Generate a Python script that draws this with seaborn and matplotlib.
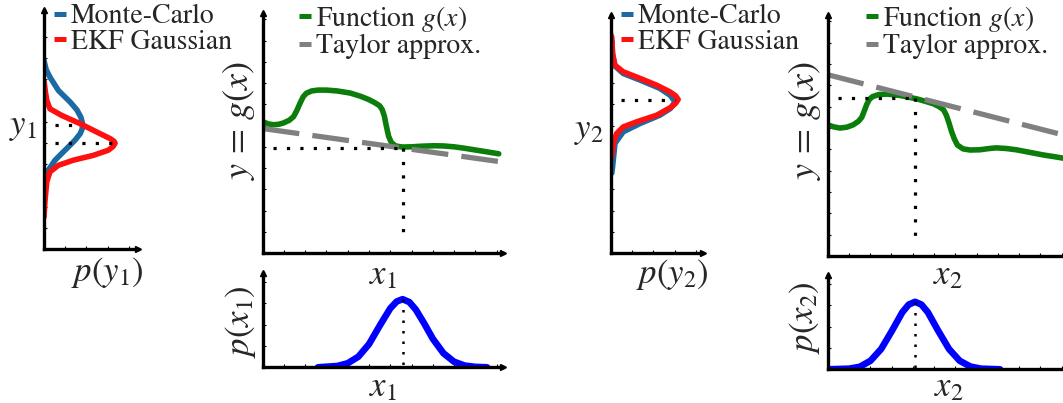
import matplotlib
matplotlib.use("Agg")
import matplotlib.pyplot as plt
from matplotlib.lines import Line2D
import seaborn as sns

# ---------------------------------------------------------------------------
# Data (axis units: one tick = one unit)
# ---------------------------------------------------------------------------
# Example 1: nonlinear function, its linearisation at x1, and the densities
g1_x = [0.0, 0.25, 0.5, 0.75, 0.97, 1.25, 1.45, 1.6, 1.76, 1.9, 2.05, 2.3,
        2.6, 3.0, 3.5, 4.12, 4.6, 5.0, 5.3, 5.5, 5.62, 5.72, 5.82, 5.92, 6.05,
        6.25, 6.56, 7.0, 7.5, 8.05, 8.5, 9.0, 9.5, 10.0, 10.5, 11.1]
g1_y = [6.19, 6.08, 6.04, 6.06, 6.12, 6.25, 6.42, 6.7, 7.06, 7.35, 7.52, 7.63,
        7.67, 7.67, 7.63, 7.53, 7.38, 7.22, 7.06, 6.93, 6.75, 6.45, 5.95, 5.5,
        5.2, 5.04, 4.99, 5.0, 5.03, 5.05, 5.04, 5.0, 4.93, 4.85, 4.77, 4.67]
taylor1_x = [0.0, 11.3]
taylor1_y = [5.86, 4.28]
x1_point = 6.6
y1_point = 4.95

px1_x = [2.6, 3.5, 4.0, 4.5, 5.0, 5.5, 6.0, 6.3, 6.58, 6.9, 7.2, 7.6, 8.0,
         8.5, 9.0, 9.5, 10.0, 10.55]
px1_y = [0.0, 0.06, 0.19, 0.5, 1.09, 1.95, 2.77, 3.09, 3.2, 3.06, 2.71, 2.05,
         1.34, 0.66, 0.26, 0.08, 0.02, 0.0]

mc1_p = [0.0, 0.1, 0.28, 0.68, 1.23, 1.55, 1.74, 1.82, 1.8, 1.7, 1.46, 0.99,
         0.52, 0.2, 0.05, 0.0]
mc1_y = [8.87, 8.45, 8.09, 7.46, 6.92, 6.55, 6.2, 5.9, 5.65, 5.42, 5.12, 4.65,
         4.18, 3.71, 3.24, 2.6]
ekf1_p = [0.0, 0.06, 0.13, 0.28, 0.83, 1.7, 2.48, 3.11, 3.3, 3.35, 3.25, 3.03,
          2.33, 1.38, 0.68, 0.28, 0.13, 0.05, 0.0]
ekf1_y = [7.93, 7.45, 7.0, 6.6, 6.29, 5.9, 5.51, 5.2, 5.07, 4.98, 4.82, 4.65,
          4.41, 4.18, 3.94, 3.63, 3.16, 2.3, 1.5]
mc1_peak = (1.8, 5.82)
ekf1_peak = (3.35, 5.0)

# Example 2: same function, linearised at x2
g2_x = [0.0, 0.3, 0.58, 0.9, 1.2, 1.45, 1.6, 1.72, 1.83, 1.95, 2.1, 2.4, 2.8,
        3.39, 4.18, 4.6, 4.96, 5.25, 5.45, 5.58, 5.7, 5.82, 5.95, 6.1, 6.37,
        6.7, 7.15, 7.6, 7.93, 8.4, 8.87, 9.5, 10.12, 10.7, 11.3]
g2_y = [6.15, 6.05, 6.0, 6.04, 6.15, 6.32, 6.5, 6.8, 7.09, 7.33, 7.47, 7.57,
        7.59, 7.53, 7.37, 7.25, 7.14, 7.0, 6.85, 6.6, 6.25, 5.85, 5.5, 5.2,
        5.02, 4.97, 4.98, 5.04, 5.07, 5.04, 4.98, 4.86, 4.74, 4.65, 4.55]
taylor2_x = [0.0, 11.3]
taylor2_y = [8.5, 5.62]
x2_point = 4.1
y2_point = 7.4

px2_x = [0.0, 1.0, 1.5, 2.0, 2.5, 3.0, 3.5, 3.8, 4.1, 4.4, 4.7, 5.2, 5.7,
         6.2, 6.7, 7.2, 8.1]
px2_y = [0.0, 0.03, 0.12, 0.4, 0.95, 1.79, 2.68, 3.04, 3.17, 3.04, 2.68, 1.79,
         0.95, 0.4, 0.13, 0.03, 0.0]

mc2_p = [0.0, 0.05, 0.09, 0.2, 0.59, 1.38, 2.31, 2.8, 3.02, 2.8, 2.31, 1.38,
         0.59, 0.2, 0.09, 0.05]
mc2_y = [10.3, 9.9, 9.3, 8.8, 8.45, 8.14, 7.75, 7.42, 7.12, 6.8, 6.49, 6.1,
         5.71, 5.16, 4.07, 3.77]
ekf2_p = [0.05, 0.09, 0.2, 0.59, 1.38, 2.16, 2.78, 3.05, 3.17, 3.05, 2.86,
          2.16, 1.22, 0.59, 0.28, 0.12, 0.05]
ekf2_y = [10.17, 9.39, 8.84, 8.53, 8.22, 7.9, 7.59, 7.4, 7.23, 7.05, 6.88,
          6.49, 6.18, 5.94, 5.63, 5.16, 4.54]
peak2 = (3.0, 7.2)

# ---------------------------------------------------------------------------
# Style
# ---------------------------------------------------------------------------
sns.set_style("white")
plt.rcParams["font.family"] = ["STIXGeneral", "DejaVu Serif"]
plt.rcParams["mathtext.fontset"] = "stix"

C_MC = "#1b6aa3"
C_EKF = "#ff1010"
C_G = "#0a7d0a"
C_TAY = "#808080"
C_PX = "#0000ff"

W, H = 1063, 403
fig = plt.figure(figsize=(W / 100, H / 100), dpi=100)


def add_axes(left, top, right, bottom):
    return fig.add_axes([left / W, 1 - bottom / H, (right - left) / W,
                         (bottom - top) / H])


def style_axes(ax, xmax, ymax, xticks, yticks):
    ax.set_xlim(0, xmax)
    ax.set_ylim(0, ymax)
    ax.set_xticks(xticks)
    ax.set_yticks(yticks)
    ax.set_xticklabels([])
    ax.set_yticklabels([])
    for s in ("top", "right"):
        ax.spines[s].set_visible(False)
    for s in ("left", "bottom"):
        ax.spines[s].set_linewidth(2.4)
        ax.spines[s].set_color("black")
    ax.tick_params(direction="in", length=2.5, width=0.8, color="black",
                   left=True, bottom=True)
    ax.set_xlabel("")
    ax.set_ylabel("")
    ax.plot(1, 0, ">", color="black", ms=5, transform=ax.get_yaxis_transform(),
            clip_on=False)
    ax.plot(0, 1, "^", color="black", ms=5, transform=ax.get_xaxis_transform(),
            clip_on=False)
    ax.patch.set_alpha(0)


def dotted(ax, xs, ys, lw=2.3):
    ax.plot(xs, ys, color="black", lw=lw, dashes=(1, 3.2),
            dash_capstyle="butt", zorder=5)


def legend(ax, handles, labels, x, y):
    ax.legend(handles, labels, loc="upper left",
              bbox_to_anchor=(x / W, 1 - y / H), bbox_transform=fig.transFigure,
              frameon=False, fontsize=20, handlelength=0.42, handletextpad=0.18,
              borderpad=0, borderaxespad=0, labelspacing=0.0)


def density_panel(left, top, right, bottom, xmax, ymax, mc_p, mc_y, ekf_p, ekf_y,
                  guides, leg_x):
    ax = add_axes(left, top, right, bottom)
    sns.lineplot(x=mc_p, y=mc_y, sort=False, estimator=None, color=C_MC, lw=4.0,
                 ax=ax)
    sns.lineplot(x=ekf_p, y=ekf_y, sort=False, estimator=None, color=C_EKF,
                 lw=4.0, ax=ax)
    for gx, gy in guides:
        dotted(ax, [0.5, gx], [gy, gy])
    style_axes(ax, xmax, ymax, [1, 2, 3, 4], list(range(0, 11)))
    h = [Line2D([], [], color=C_MC, lw=3.6, solid_capstyle="butt"),
         Line2D([], [], color=C_EKF, lw=3.6, solid_capstyle="butt")]
    legend(ax, h, ["Monte-Carlo", "EKF Gaussian"], leg_x, 4)
    return ax


def function_panel(left, top, right, bottom, gx, gy, tx, ty, xp, yp, leg_x):
    ax = add_axes(left, top, right, bottom)
    sns.lineplot(x=gx, y=gy, sort=False, estimator=None, color=C_G, lw=4.0,
                 ax=ax)
    sns.lineplot(x=tx, y=ty, sort=False, estimator=None, color=C_TAY, lw=3.8,
                 ax=ax)
    ax.lines[-1].set_dashes((7.0, 2.5))
    ax.lines[-1].set_dash_capstyle("butt")
    dotted(ax, [0.5, xp], [yp, yp])
    dotted(ax, [xp, xp], [yp, 0.6])
    style_axes(ax, 11.3, 11.3, list(range(1, 12)), list(range(1, 12)))
    h = [Line2D([], [], color=C_G, lw=3.6, solid_capstyle="butt"),
         Line2D([], [], color=C_TAY, lw=3.6, solid_capstyle="butt")]
    legend(ax, h, [r"Function $g(x)$", "Taylor approx."], leg_x, 4)
    return ax


def prior_panel(left, top, right, bottom, px, py, xp, peak):
    ax = add_axes(left, top, right, bottom)
    sns.lineplot(x=px, y=py, sort=False, estimator=None, color=C_PX, lw=4.8,
                 ax=ax)
    dotted(ax, [xp, xp], [peak, 0.05], lw=1.8)
    style_axes(ax, 11.3, 4.43, list(range(1, 12)), [1, 2, 3, 4])
    return ax


# Example 1
density_panel(44, 10, 138, 249, 4.43, 11.25, mc1_p, mc1_y, ekf1_p, ekf1_y,
              [mc1_peak, ekf1_peak], 54)
function_panel(262.7, 13, 503, 253, g1_x, g1_y, taylor1_x, taylor1_y,
               x1_point, y1_point, 299)
prior_panel(262.7, 273, 503, 367.3, px1_x, px1_y, x1_point, max(px1_y))

# Example 2
density_panel(610.7, 15, 703.3, 253.3, 4.35, 11.2, mc2_p, mc2_y, ekf2_p, ekf2_y,
              [peak2], 621)
function_panel(827.7, 15, 1068, 256, g2_x, g2_y, taylor2_x, taylor2_y,
               x2_point, y2_point, 866)
prior_panel(828, 275, 1068, 369.3, px2_x, px2_y, x2_point, max(px2_y))


def label(x, y, s, rot=0, size=25):
    fig.text(x / W, 1 - y / H, s, ha="center", va="center", rotation=rot,
             fontsize=size)


label(23, 127, r"$y_1$")
label(107, 272, r"$p(y_1)$")
label(239, 120, r"$y\,=\,g(x)$", rot=90, size=26)
label(383, 276, r"$x_1$")
label(383, 388, r"$x_1$")
label(240, 322, r"$p(x_1)$", rot=90)

label(589, 131, r"$y_2$")
label(672, 275, r"$p(y_2)$")
label(805, 120, r"$y\,=\,g(x)$", rot=90, size=26)
label(948, 276, r"$x_2$")
label(949, 388, r"$x_2$")
label(804, 318, r"$p(x_2)$", rot=90)

fig.savefig("out.png", dpi=100)
